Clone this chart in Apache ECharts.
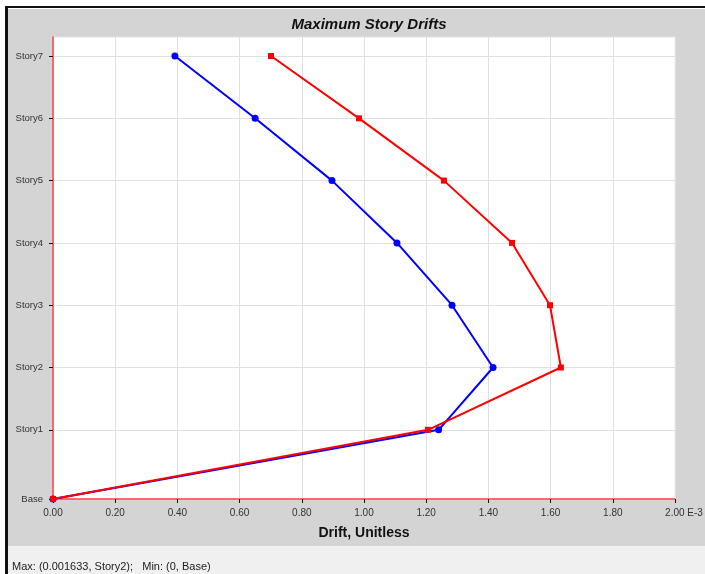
<!DOCTYPE html>
<html>
<head>
<meta charset="utf-8">
<script src="https://cdn.jsdelivr.net/npm/echarts@6/dist/echarts.min.js"></script>
<style>html,body{margin:0;padding:0;background:#fff}#c{width:705px;height:574px}</style>
</head>
<body>
<div id="c"></div>
<script>
// Story names and elevations (bottom to top)
const stories = ['Base', 'Story1', 'Story2', 'Story3', 'Story4', 'Story5', 'Story6', 'Story7'];
const elevations = [0, 4, 7.6, 11.2, 14.8, 18.4, 22, 25.6];
// Drift values, unit E-3
const driftBlue = [0, 1.24, 1.415, 1.283, 1.106, 0.897, 0.65, 0.392];
const driftRed = [0, 1.206, 1.633, 1.598, 1.476, 1.257, 0.984, 0.701];
const xTicks = [0, 0.2, 0.4, 0.6, 0.8, 1.0, 1.2, 1.4, 1.6, 1.8, 2.0];

const FONT = 'Liberation Sans, Arial, sans-serif';
const chart = echarts.init(document.getElementById('c'));
const toPairs = arr => arr.map((v, i) => [v, elevations[i]]);

chart.setOption({
  animation: false,
  backgroundColor: '#ffffff',
  title: {
    text: 'Maximum Story Drifts',
    left: 364, top: 12, textAlign: 'center',
    textStyle: { fontFamily: FONT, fontSize: 15, fontWeight: 'bold', fontStyle: 'italic', color: '#111' }
  },
  graphic: [
    { type: 'rect', z: -10, shape: { x: 8, y: 9, width: 697, height: 537 }, style: { fill: '#d4d4d4' } },
    { type: 'rect', z: -10, shape: { x: 8, y: 546, width: 697, height: 28 }, style: { fill: '#f0f0f0' } },
    { type: 'rect', z: -9, shape: { x: 5, y: 6, width: 700, height: 2 }, style: { fill: '#111' } },
    { type: 'rect', z: -9, shape: { x: 5, y: 6, width: 3, height: 568 }, style: { fill: '#111' } },
    { type: 'text', z: 5, x: 12, y: 567, style: { text: 'Max: (0.001633, Story2);   Min: (0, Base)', font: '11px ' + FONT, fill: '#222', textVerticalAlign: 'middle' } }
  ],
  grid: {
    left: 53, right: 30, top: 37, bottom: 75,
    outerBoundsMode: 'none', containLabel: false,
    show: true, backgroundColor: '#ffffff', borderColor: '#e4e4e4', borderWidth: 1
  },
  xAxis: {
    type: 'value', min: 0, max: 2, interval: 0.2,
    name: 'Drift, Unitless', nameLocation: 'middle', nameGap: 27,
    nameTextStyle: { fontFamily: FONT, fontSize: 14, fontWeight: 'bold', color: '#111' },
    axisLine: { show: true, lineStyle: { color: '#ff4040', width: 1.5 } },
    axisTick: { show: true, length: 4, lineStyle: { color: '#111' } },
    axisLabel: {
      fontFamily: FONT, fontSize: 10, color: '#333', margin: 9,
      formatter: v => v >= 2 ? '{e|' + v.toFixed(2) + ' E-3}' : v.toFixed(2),
      rich: { e: { fontFamily: FONT, fontSize: 10, color: '#333', padding: [0, 0, 0, 18] } }
    },
    splitLine: { show: true, lineStyle: { color: '#e0e0e0', width: 1 } }
  },
  yAxis: {
    type: 'value', min: 0, max: 26.7,
    axisLine: { show: true, lineStyle: { color: '#ff4040', width: 1.5 } },
    axisTick: { show: true, length: 4, customValues: elevations, lineStyle: { color: '#111' } },
    axisLabel: {
      fontFamily: FONT, fontSize: 9.5, color: '#333', margin: 10,
      customValues: elevations,
      formatter: v => { const i = elevations.findIndex(e => Math.abs(e - v) < 1e-6); return i >= 0 ? stories[i] : ''; }
    },
    splitLine: { show: true, lineStyle: { color: '#e0e0e0', width: 1 } }
  },
  series: [
    {
      name: 'Blue', type: 'line', data: toPairs(driftBlue),
      symbol: 'circle', symbolSize: 7,
      lineStyle: { color: '#0000ff', width: 2 },
      itemStyle: { color: '#0000ff' }, z: 3
    },
    {
      name: 'Red', type: 'line', data: toPairs(driftRed),
      symbol: 'rect', symbolSize: 6,
      lineStyle: { color: '#ff0000', width: 2 },
      itemStyle: { color: '#ff0000' }, z: 4
    }
  ]
});
</script>
</body>
</html>
